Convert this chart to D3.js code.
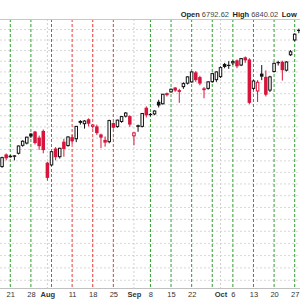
<!DOCTYPE html>
<html>
<head>
<meta charset="utf-8">
<script src="https://cdn.jsdelivr.net/npm/d3@7"></script>
<style>
  html, body { margin: 0; padding: 0; background: #fff; }
  svg { display: block; font-family: "Liberation Sans", Arial, sans-serif; }
</style>
</head>
<body>
<div id="chart"></div>
<script>
// Daily candles, Jul 16 - Oct 28 (trading days only)
const dates = [
  "2025-07-16","2025-07-17","2025-07-18","2025-07-21","2025-07-22","2025-07-23","2025-07-24","2025-07-25",
  "2025-07-28","2025-07-29","2025-07-30","2025-07-31","2025-08-01","2025-08-04","2025-08-05","2025-08-06",
  "2025-08-07","2025-08-08","2025-08-11","2025-08-12","2025-08-13","2025-08-14","2025-08-15","2025-08-18",
  "2025-08-19","2025-08-20","2025-08-21","2025-08-22","2025-08-25","2025-08-26","2025-08-27","2025-08-28",
  "2025-08-29","2025-09-02","2025-09-03","2025-09-04","2025-09-05","2025-09-08","2025-09-09","2025-09-10",
  "2025-09-11","2025-09-12","2025-09-15","2025-09-16","2025-09-17","2025-09-18","2025-09-19","2025-09-22",
  "2025-09-23","2025-09-24","2025-09-25","2025-09-26","2025-09-29","2025-09-30","2025-10-01","2025-10-02",
  "2025-10-03","2025-10-06","2025-10-07","2025-10-08","2025-10-09","2025-10-10","2025-10-13","2025-10-14",
  "2025-10-15","2025-10-16","2025-10-17","2025-10-20","2025-10-21","2025-10-22","2025-10-23","2025-10-24",
  "2025-10-27","2025-10-28"
];
const opens = [
  6230, 6273, 6326, 6316, 6318, 6331, 6366, 6376,
  6418, 6427, 6400, 6430, 6290, 6280, 6352, 6316,
  6382, 6365, 6402, 6395, 6468, 6462, 6482, 6450,
  6450, 6414, 6390, 6382, 6465, 6449, 6472, 6496,
  6496, 6408, 6450, 6450, 6534, 6506, 6506, 6561,
  6552, 6600, 6606, 6626, 6614, 6630, 6646, 6652,
  6696, 6674, 6622, 6622, 6653, 6662, 6676, 6735,
  6731, 6740, 6752, 6730, 6766, 6756, 6622, 6610,
  6690, 6675, 6614, 6700, 6744, 6745, 6706, 6778,
  6848, 6896
];
const highs = [
  6268, 6316, 6330, 6324, 6322, 6365, 6388, 6404,
  6420, 6430, 6409, 6436, 6294, 6340, 6358, 6355,
  6395, 6406, 6412, 6452, 6478, 6478, 6486, 6460,
  6458, 6418, 6405, 6480, 6468, 6480, 6496, 6514,
  6500, 6424, 6458, 6510, 6540, 6510, 6522, 6570,
  6597, 6603, 6621, 6628, 6620, 6650, 6678, 6700,
  6702, 6680, 6628, 6655, 6694, 6700, 6724, 6740,
  6748, 6752, 6756, 6763, 6770, 6762, 6660, 6660,
  6730, 6705, 6680, 6742, 6750, 6750, 6748, 6800,
  6880, 6902
];
const lows = [
  6201, 6268, 6300, 6312, 6300, 6326, 6360, 6370,
  6398, 6370, 6346, 6331, 6212, 6276, 6300, 6308,
  6316, 6360, 6372, 6380, 6458, 6440, 6450, 6440,
  6412, 6354, 6360, 6375, 6440, 6444, 6466, 6490,
  6448, 6366, 6426, 6445, 6490, 6495, 6500, 6535,
  6548, 6585, 6602, 6606, 6556, 6620, 6640, 6648,
  6652, 6636, 6577, 6616, 6648, 6652, 6670, 6715,
  6712, 6730, 6715, 6725, 6740, 6550, 6615, 6560,
  6660, 6585, 6605, 6695, 6728, 6658, 6700, 6772,
  6842, 6880
];
const closes = [
  6264, 6312, 6309, 6318, 6320, 6363, 6384, 6402,
  6405, 6376, 6362, 6345, 6224, 6338, 6314, 6353,
  6350, 6403, 6384, 6450, 6472, 6474, 6462, 6456,
  6420, 6400, 6378, 6476, 6444, 6478, 6494, 6510,
  6458, 6421, 6453, 6508, 6500, 6502, 6519, 6544,
  6595, 6591, 6618, 6612, 6606, 6644, 6675, 6698,
  6660, 6644, 6614, 6652, 6690, 6698, 6718, 6721,
  6727, 6746, 6724, 6760, 6752, 6556, 6656, 6650,
  6676, 6593, 6675, 6738, 6740, 6706, 6744, 6792,
  6875, 6892
];

// Weekly separators and their colours, month separators
const weekStarts = ["2025-07-21","2025-07-28","2025-08-04","2025-08-11","2025-08-18","2025-08-25",
  "2025-09-08","2025-09-15","2025-09-22","2025-09-29","2025-10-06","2025-10-13","2025-10-20","2025-10-27"];
const weekColors = ["green","green","green","red","red","red",
  "green","green","green","green","green","green","green","green"];
const monthStarts = ["2025-08-01","2025-09-02","2025-10-01"];

// x axis labels
const tickDates = ["2025-07-21","2025-07-28","2025-08-01","2025-08-11","2025-08-18","2025-08-25","2025-09-02",
  "2025-09-08","2025-09-15","2025-09-22","2025-10-01","2025-10-06","2025-10-13","2025-10-20","2025-10-27"];
const tickLabels = ["21","28","Aug","11","18","25","Sep","8","15","22","Oct","6","13","20","27"];
const monthNames = ["Aug","Sep","Oct"];

// price grid every 50 points
const gridValues = d3.range(5800, 6901, 50);

const header = [["Open", "6792.62"], ["High", "6840.02"], ["Low", ""]];

const width = 300, height = 300;
const plotTop = 19, plotBottom = 288;

const svg = d3.select("#chart").append("svg")
  .attr("width", width)
  .attr("height", height);

const x = d3.scaleLinear()
  .domain([0, dates.length - 1])
  .range([-2.07, 298.82]);

const y = d3.scaleLog()
  .domain([5767, 6948])
  .range([plotBottom, plotTop]);

const idx = d => dates.indexOf(d);

// horizontal dotted grid
const yGrid = svg.append("g")
  .call(d3.axisLeft(y).tickValues(gridValues).tickSize(-width).tickFormat(""));
yGrid.select(".domain").remove();
yGrid.selectAll("line")
  .attr("stroke", "#d8d8d8")
  .attr("stroke-dasharray", "2,2");

// month separators
svg.append("g").selectAll("line")
  .data(monthStarts)
  .join("line")
  .attr("x1", d => x(idx(d))).attr("x2", d => x(idx(d)))
  .attr("y1", plotTop).attr("y2", plotBottom)
  .attr("stroke", "#cfcfcf")
  .attr("stroke-dasharray", "2,2");

// week separators
const lineColor = { green: "#2f9e2f", red: "#e83c3c" };
svg.append("g").selectAll("line")
  .data(weekStarts)
  .join("line")
  .attr("x1", d => x(idx(d))).attr("x2", d => x(idx(d)))
  .attr("y1", plotTop).attr("y2", plotBottom)
  .attr("stroke", (d, i) => lineColor[weekColors[i]])
  .attr("stroke-dasharray", "3,2");

// top border
svg.append("line")
  .attr("x1", 0).attr("x2", width)
  .attr("y1", plotTop + 0.5).attr("y2", plotTop + 0.5)
  .attr("stroke", "#c8c8c8");

// x axis
const xAxis = svg.append("g")
  .attr("transform", `translate(0,${plotBottom})`)
  .call(d3.axisBottom(x)
    .tickValues(tickDates.map(idx))
    .tickFormat((d, i) => tickLabels[i])
    .tickSize(0)
    .tickSizeOuter(0)
    .tickPadding(3.5));
xAxis.select(".domain")
  .attr("stroke", "#c0c0c0")
  .attr("d", `M0,0.5H${width}`);
xAxis.selectAll("text")
  .attr("font-size", 7.5)
  .attr("font-family", "Liberation Sans, Arial, sans-serif")
  .attr("fill", "#333")
  .attr("font-weight", (d, i) => monthNames.includes(tickLabels[i]) ? "bold" : "normal");

// candles
const candles = dates.map((d, i) => ({
  i, o: opens[i], h: highs[i], l: lows[i], c: closes[i],
  prev: i > 0 ? closes[i - 1] : opens[i]
}));
const RED = "#d8143c";
const colorOf = d => d.c < d.prev ? RED : "#111";
const hollow = d => d.c >= d.o;

const cg = svg.append("g");
cg.selectAll(".wick")
  .data(candles)
  .join("line")
  .attr("class", "wick")
  .attr("x1", d => x(d.i)).attr("x2", d => x(d.i))
  .attr("y1", d => y(d.h)).attr("y2", d => y(d.l))
  .attr("stroke", colorOf);

cg.selectAll(".body")
  .data(candles)
  .join("rect")
  .attr("class", "body")
  .attr("x", d => hollow(d) ? x(d.i) - 1.25 : x(d.i) - 1.75)
  .attr("width", d => hollow(d) ? 2.5 : 3.5)
  .attr("y", d => y(Math.max(d.o, d.c)))
  .attr("height", d => Math.max(hollow(d) ? 0.5 : 1.2, Math.abs(y(d.o) - y(d.c))))
  .attr("fill", d => hollow(d) ? "#fff" : colorOf(d))
  .attr("stroke", d => hollow(d) ? colorOf(d) : "none")
  .attr("stroke-width", 1);

// header line
const ht = svg.append("text")
  .attr("x", 180.7)
  .attr("y", 17.3)
  .attr("font-size", 7.5)
  .attr("fill", "#222");
header.forEach(([k, v], i) => {
  ht.append("tspan")
    .attr("dx", i === 0 ? 0 : 3.5)
    .attr("font-weight", "bold")
    .text(k);
  if (v) ht.append("tspan").attr("dx", 2).attr("fill", "#444").text(v);
});
</script>
</body>
</html>
